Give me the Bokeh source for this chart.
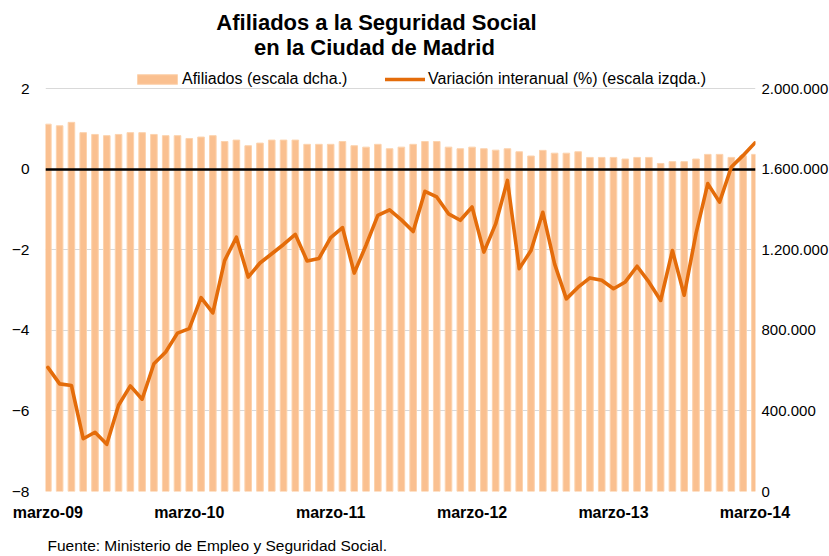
from bokeh.plotting import figure
from bokeh.models import Range1d, LinearAxis, FixedTicker, Legend, LegendItem, Label, Title
from bokeh.embed import file_html
from bokeh.resources import INLINE

# ---- data -------------------------------------------------------------
meses_abrev = ["ene", "feb", "mar", "abr", "may", "jun",
               "jul", "ago", "sep", "oct", "nov", "dic"]
months = [f"{meses_abrev[(2 + k) % 12]}-{9 + (2 + k) // 12:02d}" for k in range(61)]

afiliados = [
    1823000, 1815000, 1832000, 1781000, 1772000, 1766000, 1772000, 1781000,
    1781000, 1772000, 1766000, 1766000, 1752000, 1759000, 1766000, 1737000,
    1744000, 1716000, 1729000, 1744000, 1744000, 1744000, 1723000, 1723000,
    1723000, 1737000, 1716000, 1709000, 1723000, 1701000, 1709000, 1723000,
    1737000, 1737000, 1709000, 1701000, 1709000, 1701000, 1694000, 1701000,
    1686000, 1665000, 1693000, 1679000, 1679000, 1686000, 1658000, 1658000,
    1658000, 1650000, 1658000, 1658000, 1628000, 1637000, 1637000, 1650000,
    1673000, 1673000, 1658000, 1666000, 1673000,
]

variacion = [
    -4.92, -5.33, -5.37, -6.69, -6.53, -6.83, -5.86, -5.38, -5.71, -4.83,
    -4.54, -4.07, -3.96, -3.19, -3.57, -2.27, -1.69, -2.68, -2.33, -2.10,
    -1.87, -1.62, -2.28, -2.22, -1.70, -1.45, -2.58, -1.89, -1.15, -1.01,
    -1.26, -1.55, -0.55, -0.69, -1.11, -1.27, -0.94, -2.06, -1.36, -0.28,
    -2.47, -2.02, -1.07, -2.35, -3.22, -2.93, -2.70, -2.76, -2.97, -2.80,
    -2.41, -2.80, -3.26, -2.02, -3.13, -1.60, -0.36, -0.82, 0.05, 0.34,
    0.65,
]

x_tick_months = ["mar-09", "mar-10", "mar-11", "mar-12", "mar-13", "mar-14"]
x_tick_labels = ["marzo-09", "marzo-10", "marzo-11", "marzo-12", "marzo-13", "marzo-14"]

left_ticks = [-8, -6, -4, -2, 0, 2]
right_ticks = [0, 400000, 800000, 1200000, 1600000, 2000000]
right_tick_labels = ["0", "400.000", "800.000", "1.200.000", "1.600.000", "2.000.000"]

titulo = ["Afiliados a la Seguridad Social", "en la Ciudad de Madrid"]
fuente = "Fuente: Ministerio de Empleo y  Seguridad Social."
leyenda = ["Afiliados (escala dcha.)", "Variación interanual (%) (escala izqda.)"]

x = list(range(len(months)))
FONT = "Liberation Sans"

# ---- layout (pixels) ---------------------------------------------------
AXIS_PX = 403            # height of the -8..2 scale
HEAD_PX = 88             # room above the 2 line for the title and legend
y_lo, y_hi = left_ticks[0], left_ticks[-1]
px_per_unit = AXIS_PX / (y_hi - y_lo)
y_top = y_hi + HEAD_PX / px_per_unit
right_top = right_ticks[-1] * (y_top - y_lo) / (y_hi - y_lo)

p = figure(frame_width=710, frame_height=AXIS_PX + HEAD_PX,
           x_range=Range1d(-0.2, 60.05), y_range=Range1d(y_lo, y_top),
           output_backend="svg", toolbar_location=None, title_location=None,
           min_border_left=45, min_border_right=0,
           min_border_top=0, min_border_bottom=65,
           background_fill_color="white", border_fill_color="white")
p.outline_line_color = None
p.extra_y_ranges = {"right": Range1d(0, right_top)}

# grid
p.xgrid.grid_line_color = None
p.ygrid.ticker = FixedTicker(ticks=left_ticks)
p.ygrid.grid_line_color = "#D9D9D9"
p.ygrid.grid_line_width = 1

# x axis
tick_pos = [months.index(m) for m in x_tick_months]
p.xaxis.ticker = FixedTicker(ticks=tick_pos)
p.xaxis.major_label_overrides = {pos: lab for pos, lab in zip(tick_pos, x_tick_labels)}
p.xaxis.axis_line_color = None
p.xaxis.major_tick_line_color = None
p.xaxis.minor_tick_line_color = None
p.xaxis.major_label_standoff = 6
p.xaxis.major_label_text_font = FONT
p.xaxis.major_label_text_font_style = "bold"
p.xaxis.major_label_text_font_size = "16px"
p.xaxis.major_label_text_color = "black"

# left axis
p.yaxis.ticker = FixedTicker(ticks=left_ticks)
p.yaxis.axis_line_color = None
p.yaxis.major_tick_line_color = None
p.yaxis.minor_tick_line_color = None
p.yaxis.major_label_standoff = 10
p.yaxis.major_label_text_font = FONT
p.yaxis.major_label_text_font_size = "15.5px"
p.yaxis.major_label_text_color = "black"

# right axis
ra = LinearAxis(y_range_name="right", ticker=FixedTicker(ticks=right_ticks))
ra.major_label_overrides = {t: l for t, l in zip(right_ticks, right_tick_labels)}
ra.axis_line_color = None
ra.major_tick_line_color = None
ra.minor_tick_line_color = None
ra.major_label_standoff = 0
ra.major_label_text_font = FONT
ra.major_label_text_font_size = "15px"
ra.major_label_text_color = "black"
p.add_layout(ra, "right")

# glyphs
bars = p.vbar(x=x, top=afiliados, bottom=0, width=0.56, y_range_name="right",
              fill_color="#FAC090", line_color="#FCD3AE", line_width=1)
p.hspan(y=[0], line_color="black", line_width=2.5)
line = p.line(x, variacion, line_color="#E46C0A", line_width=3.6,
              line_join="round", line_cap="round")

# legends just above the 2 line
LEG_Y = AXIS_PX - 1
common = dict(orientation="horizontal", glyph_height=12, label_height=20,
              padding=0, margin=0, border_line_color=None,
              background_fill_alpha=0, label_text_font=FONT,
              label_text_font_size="16px", label_text_color="black",
              label_text_baseline="alphabetic")
p.add_layout(Legend(items=[LegendItem(label=leyenda[0], renderers=[bars])],
                    location=(87, LEG_Y), glyph_width=50, label_standoff=-5,
                    **common))
p.add_layout(Legend(items=[LegendItem(label=leyenda[1], renderers=[line])],
                    location=(340, LEG_Y), glyph_width=40, label_standoff=3,
                    **common))

# title lines (screen units inside the frame)
for txt, (sx, sy) in zip(titulo, [(331, AXIS_PX + 66), (329, AXIS_PX + 41)]):
    p.add_layout(Label(x=sx, y=sy, x_units="screen", y_units="screen",
                       text=txt, text_align="center", text_baseline="middle",
                       text_font=FONT, text_font_style="bold",
                       text_font_size="22px", text_color="black"))

# source note below the x axis
p.add_layout(Title(text=fuente, align="left", offset=2, standoff=22,
                   text_font=FONT, text_font_style="normal",
                   text_font_size="15.5px", text_color="black"), "below")

open("out.html", "w").write(file_html(p, INLINE))
